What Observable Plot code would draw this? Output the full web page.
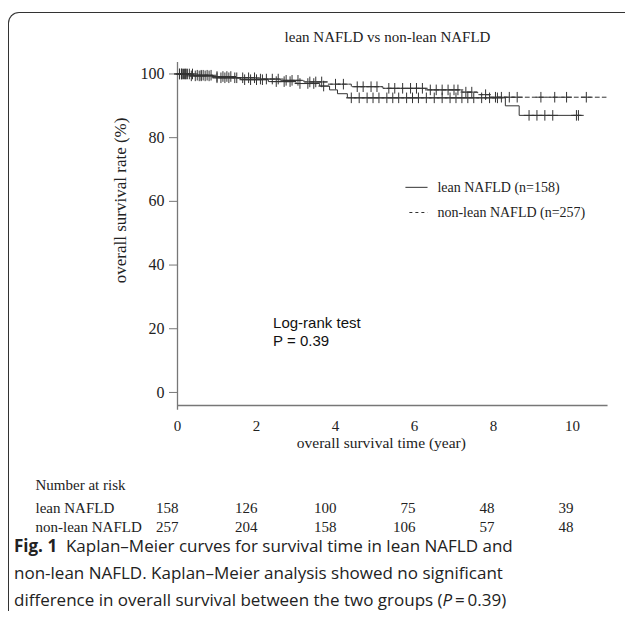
<!DOCTYPE html>
<html><head><meta charset="utf-8">
<script src="https://cdn.jsdelivr.net/npm/d3@7"></script>
<script src="https://cdn.jsdelivr.net/npm/@observablehq/plot@0.6"></script>
<style>
body{margin:0;background:#fff;}
#wrap{position:relative;width:625px;height:618px;overflow:hidden;background:#fff;}
#frame{position:absolute;left:8px;top:12px;width:700px;height:598px;border-top:1.3px solid #333;border-left:1.3px solid #333;border-top-left-radius:11px;}
#title{position:absolute;left:0;width:775px;top:29px;text-align:center;font-family:"Liberation Serif",serif;font-size:15px;color:#222;}
#main{position:absolute;left:0;top:0;}
#risk{position:absolute;left:0;top:477px;}
.cap{position:absolute;left:14px;font-family:"Open Sans",sans-serif;font-size:17px;line-height:17px;color:#222;white-space:nowrap;}
</style></head>
<body><div id="wrap"><div id="frame"></div><div id="title">lean NAFLD vs non-lean NAFLD</div><div id="main"></div><div id="risk"></div>
<div class="cap" style="top:537px"><b>Fig. 1</b>&nbsp; Kaplan–Meier curves for survival time in lean NAFLD and</div>
<div class="cap" style="top:564px">non-lean NAFLD. Kaplan–Meier analysis showed no significant</div>
<div class="cap" style="top:591px">difference in overall survival between the two groups (<i>P</i>&thinsp;=&thinsp;0.39)</div>
</div>
<script>
// Lean NAFLD (solid) step curve
const leanTimes = [0, 0.3, 0.9, 1.6, 2.3, 3.0, 3.6, 3.85, 4.05, 4.3, 8.3, 8.65, 10.2];
const leanSurv  = [100, 99.4, 98.8, 98.2, 97.6, 97.0, 96.2, 95.0, 93.8, 92.5, 90.0, 87.0, 87.0];
const leanCensor = [0.05,0.1,0.15,0.2,0.25,0.35,0.45,0.55,0.6,0.7,0.8,1.0,1.1,1.2,1.3,1.45,1.7,1.85,2.0,2.15,2.5,2.7,2.85,3.1,3.3,3.45,3.7,4.4,4.6,4.8,4.95,5.1,5.3,5.45,5.6,5.8,5.95,6.1,6.3,6.5,6.7,6.9,7.05,7.2,7.35,7.5,7.7,7.9,8.1,8.9,9.1,9.3,9.5,10.1,10.15];
// non-lean NAFLD (dashed) step curve
const nonTimes = [0, 0.4, 0.9, 1.4, 2.0, 2.6, 3.2, 3.8, 4.4, 5.2, 6.3, 7.2, 7.6, 7.9, 10.85];
const nonSurv  = [100, 99.6, 99.2, 98.8, 98.4, 98.0, 97.5, 96.8, 96.0, 95.5, 95.0, 94.3, 93.5, 92.7, 92.7];
const nonCensor = [0.05,0.1,0.12,0.18,0.22,0.3,0.38,0.5,0.6,0.65,0.75,0.85,1.0,1.15,1.25,1.35,1.5,1.65,1.8,1.95,2.1,2.25,2.4,2.55,2.75,2.9,3.05,3.35,3.5,3.65,4.0,4.2,4.55,4.7,4.9,5.05,5.35,5.5,5.7,5.9,6.05,6.2,6.4,6.55,6.7,6.85,7.0,7.1,7.3,7.45,7.8,8.05,8.2,8.4,8.6,9.2,9.55,9.85,10.35];
// Number at risk
const riskTimes = [0, 2, 4, 6, 8, 10];
const riskLean = [158, 126, 100, 75, 48, 39];
const riskNon = [257, 204, 158, 106, 57, 48];
const xTicks = [0, 2, 4, 6, 8, 10];
const yTicks = [0, 20, 40, 60, 80, 100];
const legendLabels = ["lean NAFLD (n=158)", "non-lean NAFLD (n=257)"];

const steps = (ts, ss) => ts.map((t, i) => ({t, s: ss[i]}));
const censorPts = (cs, ts, ss) => cs.map(t => ({t, s: ss[d3.bisectRight(ts, t) - 1]}));

const W = 625, H = 460;
const xDom = [0, 10.9], yDom = [-4.1, 103.6];
const mL = 177, mR = W - 177 - 39.5 * 10.9, mT = 62, mB = H - 405;
const serif = "Liberation Serif, Times New Roman, serif";
const ink = "#333";

const main = Plot.plot({
  width: W, height: H,
  marginLeft: mL, marginRight: mR, marginTop: mT, marginBottom: mB,
  x: {domain: xDom},
  y: {domain: yDom},
  style: {fontFamily: serif, fontSize: "15px", color: "#222", background: "transparent"},
  marks: [
    Plot.ruleX([0], {stroke: "#777", strokeWidth: 1.3, y1: yDom[0] - 1.5, y2: yDom[1]}),
    Plot.ruleY([yDom[0]], {stroke: "#777", strokeWidth: 1.3}),
    Plot.axisY({ticks: yTicks, tickSize: 8, tickPadding: 5, stroke: "#777", fontSize: 16, label: null}),
    Plot.axisX({ticks: xTicks, tickSize: 0, tickPadding: 15, fontSize: 15, label: null}),
    Plot.line(steps(leanTimes, leanSurv), {x: "t", y: "s", curve: "step-after", stroke: ink, strokeWidth: 1}),
    Plot.line(steps(nonTimes, nonSurv), {x: "t", y: "s", curve: "step-after", stroke: ink, strokeWidth: 1, strokeDasharray: "4,3"}),
    Plot.dot(censorPts(leanCensor, leanTimes, leanSurv), {x: "t", y: "s", symbol: "plus", r: 3.5, stroke: ink, strokeWidth: 1}),
    Plot.dot(censorPts(nonCensor, nonTimes, nonSurv), {x: "t", y: "s", symbol: "plus", r: 3.5, stroke: ink, strokeWidth: 1}),
    // legend
    Plot.link([0], {x1: 5.77, x2: 6.33, y1: 64.4, y2: 64.4, stroke: ink, strokeWidth: 1}),
    Plot.link([0], {x1: 5.87, x2: 6.33, y1: 56.5, y2: 56.5, stroke: ink, strokeWidth: 1, strokeDasharray: "3,3"}),
    Plot.text(legendLabels, {x: 6.58, y: [64.4, 56.5], text: d => d, textAnchor: "start", fontSize: 14, fill: "#222"}),
    // log-rank annotation
    Plot.text(["Log-rank test", "P = 0.39"], {x: 2.42, y: [21.6, 16.0], text: d => d, textAnchor: "start", fontSize: 15, fontFamily: "Liberation Sans, Arial, sans-serif", fill: "#111"}),
    // axis labels
    Plot.text(["overall survival rate (%)"], {frameAnchor: "left", y: [60.3], dx: -57, rotate: -90, textAnchor: "middle", fontSize: 17, fill: "#222"}),
    Plot.text(["overall survival time (year)"], {frameAnchor: "bottom", x: [5.16], dy: 42, fontSize: 15.5, fill: "#222"})
  ]
});
document.getElementById("main").appendChild(main);

const riskRows = riskTimes.flatMap((t, i) => [{t, row: 1, n: riskLean[i]}, {t, row: 2, n: riskNon[i]}]);
const risk = Plot.plot({
  width: W, height: 60,
  marginLeft: mL, marginRight: mR, marginTop: 0, marginBottom: 0,
  x: {domain: xDom, axis: null},
  y: {domain: [0, 2.6], axis: null, range: [12, 12 + 19 * 2.6]},
  style: {fontFamily: serif, fontSize: "15px", color: "#222", background: "transparent"},
  marks: [
    Plot.text(["Number at risk"], {frameAnchor: "left", y: [0], dx: 35 - mL, dy: -4, textAnchor: "start", fontSize: 15, fill: "#222"}),
    Plot.text(["lean NAFLD", "non-lean NAFLD"], {frameAnchor: "left", y: [1, 2], text: d => d, dx: 35 - mL, textAnchor: "start", fontSize: 15, fill: "#222"}),
    Plot.text(riskRows, {x: "t", y: "row", text: "n", textAnchor: "end", dx: 1, fontSize: 15, fill: "#222"})
  ]
});
document.getElementById("risk").appendChild(risk);
</script>
</body></html>
